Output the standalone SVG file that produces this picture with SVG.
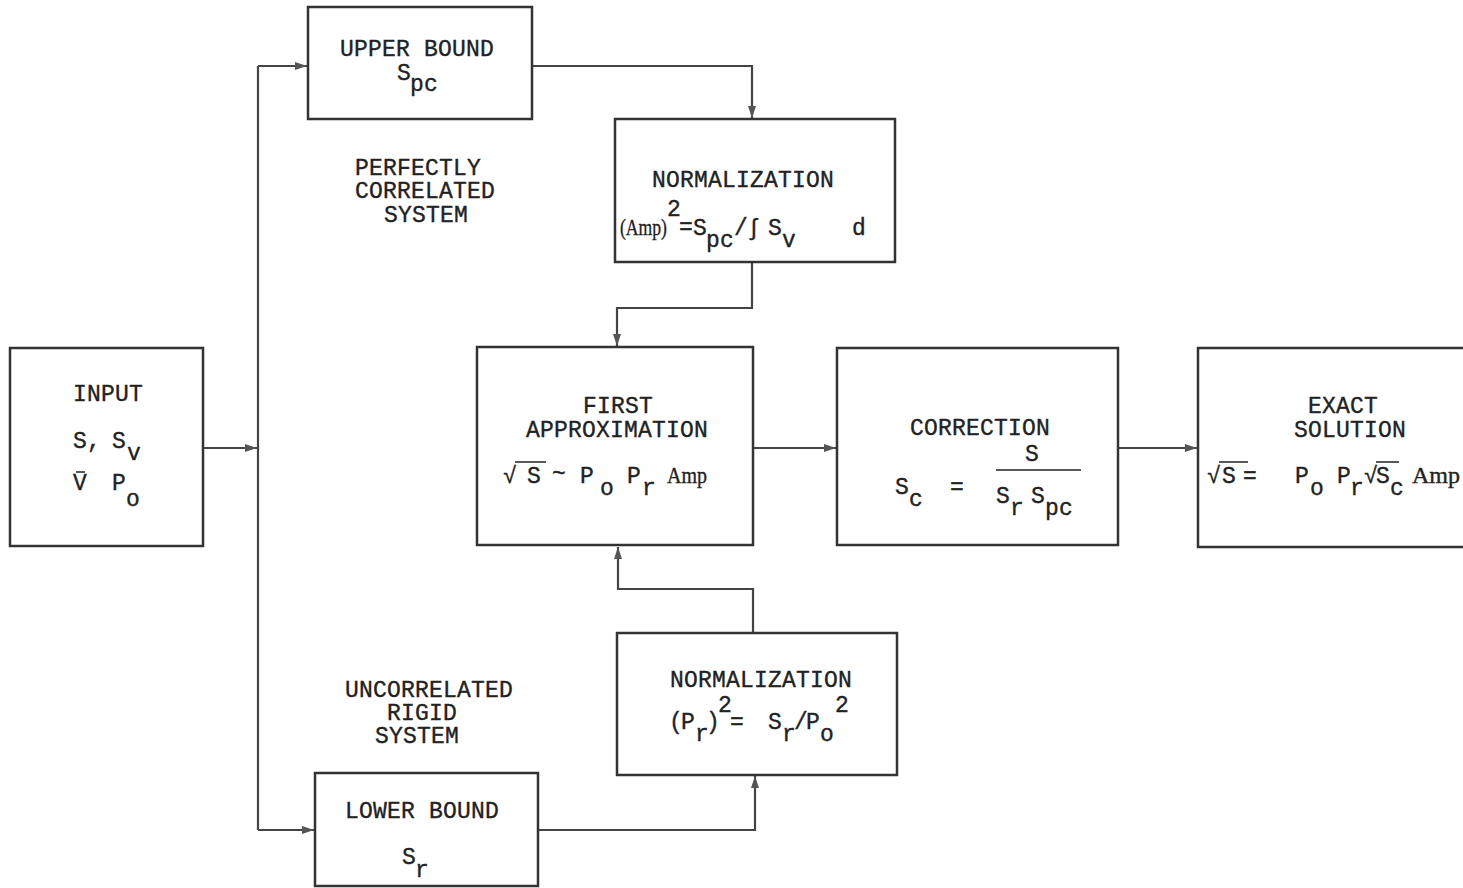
<svg xmlns="http://www.w3.org/2000/svg" width="1463" height="888" viewBox="0 0 1463 888">
<style>
.box{fill:#fff;stroke:#333;stroke-width:2.5}
.t{font-family:"Liberation Mono","Courier New",monospace;font-size:23px;fill:#222;stroke:#222;stroke-width:0.35;letter-spacing:0.2px}
.p{font-family:"Liberation Serif","Times New Roman",serif;font-size:23px;letter-spacing:0}
.c{fill:none;stroke:#444;stroke-width:2.2}
.ol{stroke:#222;stroke-width:1.5}
</style>
<defs>
<marker id="ah" viewBox="0 0 12 8" refX="12" refY="4" markerWidth="12" markerHeight="8" markerUnits="userSpaceOnUse" orient="auto"><path d="M0,0 L12,4 L0,8 z" fill="#555"/></marker>
</defs>
<rect width="1463" height="888" fill="#fff"/>

<g id="connectors">
<line class="c" x1="258" y1="66" x2="258" y2="830"/>
<line class="c" x1="203" y1="448" x2="257" y2="448" marker-end="url(#ah)"/>
<line class="c" x1="258" y1="66" x2="307" y2="66" marker-end="url(#ah)"/>
<line class="c" x1="258" y1="830" x2="314" y2="830" marker-end="url(#ah)"/>
<polyline class="c" points="532,66 752,66 752,118" marker-end="url(#ah)"/>
<polyline class="c" points="752,262 752,308 617,308 617,346" marker-end="url(#ah)"/>
<polyline class="c" points="538,830 755,830 755,776" marker-end="url(#ah)"/>
<polyline class="c" points="753,633 753,589 618,589 618,547" marker-end="url(#ah)"/>
<line class="c" x1="753" y1="448" x2="836" y2="448" marker-end="url(#ah)"/>
<line class="c" x1="1118" y1="448" x2="1197" y2="448" marker-end="url(#ah)"/>
</g>

<g id="input">
<rect class="box" x="10" y="348" width="193" height="198"/>
<text class="t" x="73" y="401">INPUT</text>
<text class="t" x="73" y="448">S,</text>
<text class="t" x="112" y="448">S</text>
<text class="t" x="127" y="460">v</text>
<text class="t" x="73" y="490">V</text>
<line class="ol" x1="76" y1="472" x2="85" y2="472"/>
<text class="t" x="112" y="490">P</text>
<text class="t" x="126" y="506">o</text>
</g>

<g id="upper-bound">
<rect class="box" x="308" y="7" width="224" height="112"/>
<text class="t" x="340" y="56">UPPER BOUND</text>
<text class="t" x="397" y="80">S</text>
<text class="t" x="410" y="91">pc</text>
</g>

<g id="label-perfect">
<text class="t" x="355" y="175">PERFECTLY</text>
<text class="t" x="355" y="198">CORRELATED</text>
<text class="t" x="384" y="222">SYSTEM</text>
</g>

<g id="normalization-upper">
<rect class="box" x="615" y="119" width="280" height="143"/>
<text class="t" x="652" y="187">NORMALIZATION</text>
<text class="t p" x="620" y="235" textLength="47" lengthAdjust="spacingAndGlyphs">(Amp)</text>
<text class="t" x="667" y="216">2</text>
<text class="t" x="679" y="234">=</text>
<text class="t" x="693" y="235">S</text>
<text class="t" x="706" y="247">pc</text>
<text class="t" x="734" y="235">/</text>
<text class="t" x="747" y="235">∫</text>
<text class="t" x="768" y="235">S</text>
<text class="t" x="782" y="247">v</text>
<text class="t" x="852" y="235">d</text>
</g>

<g id="first-approximation">
<rect class="box" x="477" y="347" width="276" height="198"/>
<text class="t" x="583" y="413">FIRST</text>
<text class="t" x="526" y="437">APPROXIMATION</text>
<text class="t" x="503" y="483">√</text>
<line class="ol" x1="515" y1="462" x2="546" y2="462"/>
<text class="t" x="527" y="483">S</text>
<text class="t" x="552" y="481">~</text>
<text class="t" x="580" y="483">P</text>
<text class="t" x="600" y="495">o</text>
<text class="t" x="627" y="483">P</text>
<text class="t" x="642" y="495">r</text>
<text class="t p" x="667" y="483" textLength="40" lengthAdjust="spacingAndGlyphs">Amp</text>
</g>

<g id="correction">
<rect class="box" x="837" y="348" width="281" height="197"/>
<text class="t" x="910" y="435">CORRECTION</text>
<text class="t" x="895" y="494">S</text>
<text class="t" x="909" y="506">c</text>
<text class="t" x="950" y="494">=</text>
<text class="t" x="1025" y="461">S</text>
<line class="ol" x1="996" y1="470" x2="1081" y2="470"/>
<text class="t" x="996" y="503">S</text>
<text class="t" x="1010" y="515">r</text>
<text class="t" x="1031" y="503">S</text>
<text class="t" x="1045" y="515">pc</text>
</g>

<g id="exact-solution">
<rect class="box" x="1198" y="348" width="275" height="199"/>
<text class="t" x="1308" y="413">EXACT</text>
<text class="t" x="1294" y="437">SOLUTION</text>
<text class="t" x="1207" y="483">√</text>
<line class="ol" x1="1219" y1="462" x2="1248" y2="462"/>
<text class="t" x="1222" y="483">S</text>
<text class="t" x="1243" y="483">=</text>
<text class="t" x="1295" y="483">P</text>
<text class="t" x="1310" y="495">o</text>
<text class="t" x="1337" y="483">P</text>
<text class="t" x="1350" y="495">r</text>
<text class="t" x="1364" y="483">√</text>
<line class="ol" x1="1376" y1="462" x2="1399" y2="462"/>
<text class="t" x="1376" y="483">S</text>
<text class="t" x="1390" y="495">c</text>
<text class="t p" x="1412" y="483" textLength="48" lengthAdjust="spacingAndGlyphs">Amp</text>
</g>

<g id="normalization-lower">
<rect class="box" x="617" y="633" width="280" height="142"/>
<text class="t" x="670" y="687">NORMALIZATION</text>
<text class="t" x="669" y="729">(</text>
<text class="t" x="681" y="729">P</text>
<text class="t" x="695" y="741">r</text>
<text class="t" x="706" y="729">)</text>
<text class="t" x="718" y="712">2</text>
<text class="t" x="730" y="729">=</text>
<text class="t" x="768" y="729">S</text>
<text class="t" x="782" y="741">r</text>
<text class="t" x="794" y="729">/</text>
<text class="t" x="806" y="729">P</text>
<text class="t" x="820" y="741">o</text>
<text class="t" x="835" y="712">2</text>
</g>

<g id="label-uncorrelated">
<text class="t" x="345" y="697">UNCORRELATED</text>
<text class="t" x="387" y="720">RIGID</text>
<text class="t" x="375" y="743">SYSTEM</text>
</g>

<g id="lower-bound">
<rect class="box" x="315" y="773" width="223" height="113"/>
<text class="t" x="345" y="818">LOWER BOUND</text>
<text class="t" x="402" y="864">S</text>
<text class="t" x="415" y="877">r</text>
</g>
</svg>
